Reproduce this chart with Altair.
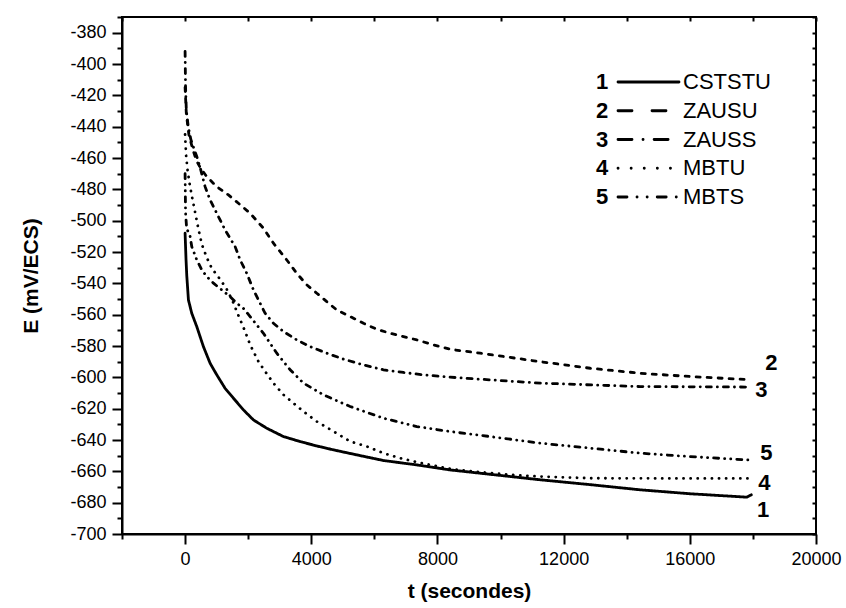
import altair as alt
import pandas as pd

names = ["CSTSTU", "ZAUSU", "ZAUSS", "MBTU", "MBTS"]
nums = ["1", "2", "3", "4", "5"]

# curve 1 : CSTSTU
t1 = [0, 30, 53, 106, 211, 370, 581, 793, 1004, 1268, 1532, 1850, 2167, 2590, 3118, 3647, 4175,
      4703, 5443, 6289, 7346, 8403, 9355, 11257, 12843, 14428, 16000, 17400, 17800, 17950]
e1 = [-508, -525, -535, -550.6, -559.1, -567.6, -580.4, -591, -598.4, -607, -613.3, -620.8, -627.2,
      -632.5, -637.8, -641, -643.8, -646.3, -649.5, -653.1, -655.9, -659.1, -661.2, -665.4, -668.5,
      -671.8, -674.3, -676, -676.5, -675]
# curve 2 : ZAUSU
t2 = [0, 40, 120, 250, 370, 476, 687, 1004, 1374, 1691, 2061, 2484, 2801, 3224, 3541, 3858, 4175,
      4492, 4809, 5232, 5655, 6078, 6500, 6923, 7346, 7874, 8403, 9355, 11257, 12843, 14428, 16014, 17900]
e2 = [-415, -432, -445, -455, -462, -466, -471.9, -478.3, -483.6, -488.9, -495.3, -504.8, -514.4,
      -525.1, -533.6, -541, -546.3, -551.7, -557, -561.2, -565.5, -569.3, -571.9, -574, -576.1,
      -579.3, -582.1, -584.6, -590, -594.2, -597.4, -599.5, -601.5]
# curve 3 : ZAUSS
t3 = [0, 15, 40, 100, 180, 280, 370, 476, 634, 793, 1004, 1268, 1585, 1744, 1955, 2167, 2325, 2537,
      2801, 3118, 3541, 3964, 4492, 5021, 5655, 6289, 6923, 7557, 8403, 9355, 11257, 14428, 17900]
e3 = [-392, -415, -430, -440, -448, -454, -459, -466, -478.3, -486.8, -495.3, -505.9, -516.5, -525,
      -533.6, -544.2, -550.6, -559.1, -565.5, -570.8, -576.1, -580.4, -584.6, -588.4, -592.1, -595.2,
      -596.9, -598.4, -599.9, -601.2, -603.7, -605.9, -606.2]
# curve 4 : MBTU
t4 = [0, 30, 80, 140, 212, 317, 423, 529, 688, 846, 1057, 1300, 1500, 1700, 1903, 2061, 2325, 2537,
      2801, 3118, 3435, 3753, 4175, 4703, 5232, 5760, 6289, 6818, 7346, 7874, 8403, 9355, 10500,
      11257, 12843, 15000, 17900]
e4 = [-445, -458, -468, -476, -484, -494.6, -505.3, -515, -523.6, -530.4, -536, -543, -551, -561,
      -570.7, -579.2, -589.9, -596.2, -603.7, -611.1, -616.5, -621.8, -628.2, -634.5, -640.9, -644.1,
      -648.4, -651.6, -654.1, -656.3, -658.4, -660.5, -662.5, -663.3, -664.4, -664.5, -664.5]
# curve 5 : MBTS
t5 = [0, 15, 50, 159, 212, 370, 529, 688, 899, 1163, 1427, 1638, 1850, 2061, 2484, 2907, 3330, 3753,
      4387, 5232, 6289, 7346, 8403, 9672, 11257, 12843, 14428, 16014, 17900]
e5 = [-470, -495, -505, -510, -516.6, -525, -531.4, -535.7, -539.9, -544.2, -548.5, -552.7, -556,
      -561.2, -571.9, -584.6, -595.2, -603.7, -611.2, -618.6, -626.1, -631.4, -634.6, -637.8, -642,
      -645.2, -648.4, -650.6, -652.8]

# end-of-curve number labels
end_t = [18128, 18392, 18075, 18170, 18233]
end_e = [-684.6, -591, -608, -667.6, -648.4]

rows = []
for nm, ts, es in zip(names, [t1, t2, t3, t4, t5], [e1, e2, e3, e4, e5]):
    for i, (t, e) in enumerate(zip(ts, es)):
        rows.append({"name": nm, "t": t, "E": e, "i": i})
df = pd.DataFrame(rows)
ends = pd.DataFrame({"name": names, "num": nums, "t": end_t, "E": end_e})
leg = pd.DataFrame({"row": list(range(5)), "num": nums, "name": names})

curve_dash = [[1, 0], [4, 7], [5, 6, 0.1, 6], [0.1, 7], [5, 6, 0.1, 6, 0.1, 6]]
legend_dash = [[1, 0], [14, 20], [14, 11, 0.1, 11], [0.1, 13], [9, 10, 0.1, 10, 0.1, 10]]

FONT = "Liberation Sans"
xscale = alt.Scale(domain=[-2000, 20000], nice=False, zero=False)
yscale = alt.Scale(domain=[-700, -370], nice=False, zero=False)
xvals = list(range(-2000, 20001, 2000))
yvals = list(range(-700, -369, 10))

x_main = alt.X("t:Q", scale=xscale, axis=alt.Axis(
    values=xvals, labelExpr="datum.value % 4000 === 0 ? '' + datum.value : ''",
    tickSize={"condition": {"test": "datum.value % 4000 === 0", "value": 10}, "value": 5},
    labelOverlap=False, labelFlush=False, labelPadding=6, labelFontSize=18,
    title="t (secondes)", titleFontSize=21, titleFontWeight="bold", titlePadding=12))
y_main = alt.Y("E:Q", scale=yscale, axis=alt.Axis(
    values=yvals, labelExpr="datum.value % 20 === 0 ? '' + datum.value : ''",
    tickSize={"condition": {"test": "datum.value % 20 === 0", "value": 10}, "value": 5},
    labelOverlap=False, labelFlush=False, labelPadding=6, labelFontSize=18,
    title="E (mV/ECS)", titleFontSize=21, titleFontWeight="bold", titlePadding=28))

lines = alt.Chart(df).mark_line(strokeWidth=2.8, strokeCap="round", color="black").encode(
    x=x_main, y=y_main, order="i:Q", detail="name:N",
    strokeDash=alt.StrokeDash("name:N", scale=alt.Scale(domain=names, range=curve_dash), legend=None))

x_top = alt.X("t:Q", scale=xscale, axis=alt.Axis(
    orient="top", values=xvals, labels=False, domain=False, tickSize=4, offset=-4, title=None))
y_right = alt.Y("E:Q", scale=yscale, axis=alt.Axis(
    orient="right", values=yvals, labels=False, domain=False, tickSize=4, offset=-4, title=None))

endlabels = alt.Chart(ends).mark_text(align="left", baseline="middle", fontSize=22,
                                      fontWeight="bold", color="black").encode(
    x=x_top, y=y_right, text="num:N")

main = alt.layer(lines, endlabels).resolve_axis(x="independent", y="independent")

ybase = alt.Y("row:Q", scale=alt.Scale(domain=[0, 4], range=[65, 180]), axis=None)
leg_num = alt.Chart(leg).mark_text(align="left", baseline="middle", fontSize=22,
                                   fontWeight="bold", color="black").encode(
    x=alt.value(474), y=ybase, text="num:N")
leg_rule = alt.Chart(leg).mark_rule(strokeWidth=2.8, strokeCap="round", color="black").encode(
    x=alt.value(496), x2=alt.value(557), y=ybase,
    strokeDash=alt.StrokeDash("name:N", scale=alt.Scale(domain=names, range=legend_dash), legend=None))
leg_name = alt.Chart(leg).mark_text(align="left", baseline="middle", fontSize=22,
                                    color="black").encode(
    x=alt.value(561), y=ybase, text="name:N")
legend = alt.layer(leg_num, leg_rule, leg_name)

chart = alt.layer(main, legend).resolve_scale(y="independent", strokeDash="independent").properties(
    width=694, height=517,
    autosize=alt.AutoSizeParams(type="none"),
    padding={"left": 122, "top": 17, "right": 30, "bottom": 74},
).configure(font=FONT).configure_axis(
    grid=False, domainColor="black", domainWidth=2, tickColor="black", tickWidth=2,
    labelColor="black", titleColor="black", labelFont=FONT, titleFont=FONT
).configure_view(stroke="black", strokeWidth=2)

chart.save("out.html", embed_options={"renderer": "svg", "actions": False})
